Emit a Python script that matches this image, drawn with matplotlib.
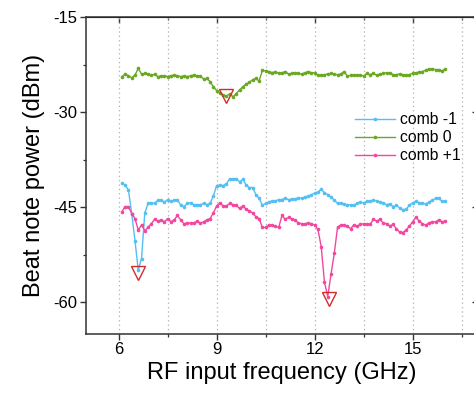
import numpy as np
import matplotlib
matplotlib.use("Agg")
import matplotlib.pyplot as plt
from matplotlib.ticker import MultipleLocator

plt.rcParams['font.family'] = ['Liberation Sans', 'DejaVu Sans']
plt.rcParams['axes.unicode_minus'] = False

# frequency grid (GHz), 0.1 GHz step
freq = np.round(np.arange(61, 161) / 10.0, 1)

comb_m1 = [-41.2, -41.5, -42.3, -46.0, -50.3, -54.9, -53.1, -45.9, -44.4, -44.3,
           -44.4, -43.9, -43.9, -44.2, -43.8, -44.1, -43.9, -43.8, -44.7, -44.9,
           -44.4, -44.3, -44.6, -44.6, -44.6, -44.4, -44.6, -44.4, -43.2, -41.6,
           -41.5, -41.6, -41.3, -40.5, -40.5, -40.5, -41.0, -40.6, -41.5, -41.9,
           -41.9, -43.0, -43.6, -44.7, -44.4, -44.2, -44.0, -44.0, -43.8, -43.8,
           -43.6, -43.8, -43.7, -43.7, -43.5, -43.6, -43.4, -43.3, -43.0, -42.8,
           -42.6, -42.2, -42.7, -43.0, -43.4, -43.9, -44.4, -44.4, -44.5, -44.7,
           -44.6, -44.7, -44.4, -44.2, -44.3, -44.1, -44.0, -43.9, -44.0, -44.2,
           -44.3, -44.6, -44.5, -44.9, -44.7, -45.1, -45.4, -45.3, -44.7, -44.3,
           -44.1, -44.3, -44.3, -44.5, -44.2, -43.9, -43.6, -43.6, -44.1, -44.0]

comb_0 = [-24.4, -24.05, -24.26, -24.58, -24.16, -23.1, -24.0, -23.9, -24.0, -24.16,
          -24.06, -24.4, -24.3, -24.26, -24.4, -24.26, -24.16, -24.26, -24.4, -24.3,
          -24.4, -24.26, -24.16, -24.26, -24.26, -24.8, -24.7, -25.2, -26.0, -26.6,
          -27.0, -27.3, -27.5, -27.1, -27.6, -27.1, -26.5, -26.0, -25.6, -25.3,
          -24.9, -24.7, -25.1, -23.4, -23.5, -23.6, -23.8, -23.6, -23.9, -23.8,
          -23.6, -24.0, -23.9, -23.8, -23.9, -24.0, -23.8, -23.6, -23.8, -23.8,
          -24.2, -24.2, -24.1, -24.0, -23.9, -24.0, -24.1, -24.0, -23.6, -24.3,
          -24.2, -24.1, -24.2, -24.2, -24.3, -23.9, -24.1, -23.9, -24.2, -24.0,
          -23.9, -23.8, -23.8, -24.1, -24.1, -24.0, -24.1, -24.2, -24.1, -23.9,
          -23.8, -23.7, -23.6, -23.4, -23.2, -23.2, -23.3, -23.3, -23.5, -23.2]

comb_p1 = [-45.7, -44.9, -44.9, -46.0, -46.8, -48.6, -47.8, -48.7, -48.2, -47.6,
           -46.9, -47.2, -47.0, -47.3, -46.8, -47.3, -47.0, -46.3, -47.0, -47.6,
           -47.5, -47.5, -47.5, -47.2, -47.5, -47.3, -47.0, -46.8, -45.9, -44.8,
           -44.3, -44.8, -44.8, -44.4, -44.6, -44.7, -45.2, -44.8, -45.3, -45.6,
           -45.9, -46.5, -46.8, -48.2, -48.2, -47.8, -47.8, -48.0, -48.2, -46.3,
           -46.9, -46.6, -46.9, -47.0, -47.5, -47.6, -47.6, -47.5, -47.6, -47.8,
           -48.5, -51.2, -56.8, -59.1, -55.6, -52.3, -48.2, -47.8, -47.8, -48.0,
           -48.4, -47.8, -48.0, -47.7, -47.6, -47.7, -47.7, -46.9, -47.2, -46.9,
           -47.5, -47.6, -48.0, -47.7, -48.4, -48.9, -49.0, -48.6, -48.0, -47.3,
           -46.6, -47.2, -47.6, -47.8, -47.5, -47.3, -47.3, -47.0, -47.3, -47.2]

# red open triangles marking the dips
mark_x = [6.6, 9.3, 12.45]
mark_y = [-55.3, -27.5, -59.4]

labels = ['comb -1', 'comb 0', 'comb +1']
colors = ['#55bff2', '#6aa824', '#f2479f']

fig = plt.figure(figsize=(4.74, 3.95), dpi=100)
ax = fig.add_axes([0.1814, 0.1544, 0.827, 0.8026])

for ys, lab, c in zip([comb_m1, comb_0, comb_p1], labels, colors):
    ax.plot(freq, ys, '-o', color=c, lw=1.0, ms=2.6, mew=0, label=lab)

ax.plot(mark_x, mark_y, 'v', ms=10, mfc='none', mec='#d42a2a', mew=1.0)

ax.set_xlim(5, 17)
ax.set_ylim(-65, -15)
ax.xaxis.set_major_locator(MultipleLocator(3))
ax.xaxis.set_minor_locator(MultipleLocator(1.5))
ax.yaxis.set_major_locator(MultipleLocator(15))
ax.yaxis.set_minor_locator(MultipleLocator(7.5))
ax.grid(True, axis='x', which='both', ls=(0, (1, 2.5)), color='#b0b0b0', lw=0.9)

for s in ax.spines.values():
    s.set_linewidth(1.1)
    s.set_color('#333333')
ax.tick_params(which='major', direction='out', length=4, width=1.0, color='#333333',
               labelsize=12, pad=2)
ax.tick_params(which='minor', direction='out', length=2.5, width=0.9, color='#333333')

secx = ax.secondary_xaxis('top')
secx.xaxis.set_major_locator(MultipleLocator(3))
secx.xaxis.set_minor_locator(MultipleLocator(1.5))
secx.tick_params(which='major', direction='in', length=4, width=1.0, labeltop=False, color='#333333')
secx.tick_params(which='minor', direction='in', length=2.5, width=0.9, color='#333333')

secy = ax.secondary_yaxis('right')
secy.yaxis.set_major_locator(MultipleLocator(15))
secy.yaxis.set_minor_locator(MultipleLocator(7.5))
secy.tick_params(which='major', direction='in', length=4, width=1.0, labelright=False, color='#333333')
secy.tick_params(which='minor', direction='in', length=2.5, width=0.9, color='#333333')

ax.set_xlabel('RF input frequency (GHz)', fontsize=17, labelpad=3)
ax.set_ylabel('Beat note power (dBm)', fontsize=17, labelpad=6)

ax.legend(loc='upper right', bbox_to_anchor=(0.972, 0.72), frameon=False, fontsize=11.3,
          handlelength=2.5, handletextpad=0.35, labelspacing=0.2, borderaxespad=0)

fig.savefig('out.png', dpi=100)
